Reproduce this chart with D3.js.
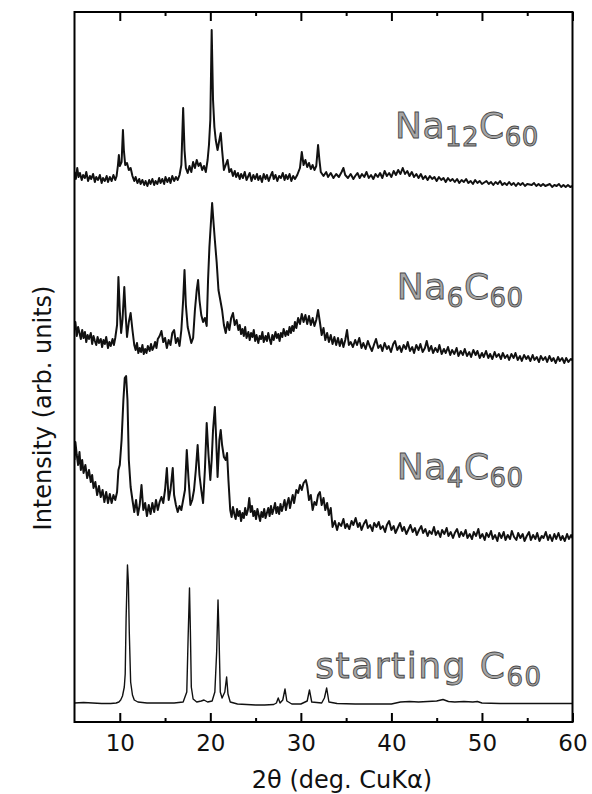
<!DOCTYPE html>
<html>
<head>
<meta charset="utf-8">
<script src="https://cdn.jsdelivr.net/npm/d3@7"></script>
<style>
  body { margin: 0; background: #fff; }
  #chart { width: 592px; height: 794px; }
  .tick text { font-family: "DejaVu Sans", sans-serif; }
</style>
</head>
<body>
<div id="chart"></div>
<script>
// 2θ (deg) and intensity (arb. units, traces already stacked)
const na12C60 = [
  [5.0,550],[5.15,543],[5.3,554],[5.45,545],[5.6,549],[5.8,542],[5.95,547],[6.15,544],[6.3,550],[6.5,541],
  [6.7,546],[6.85,543],[7.05,548],[7.25,540],[7.4,545],[7.6,542],[7.8,547],[8.0,539],[8.15,544],[8.35,541],
  [8.55,546],[8.7,540],[8.9,545],[9.1,541],[9.3,547],[9.5,542],[9.65,546],
  [9.8,557],[9.9,567],[10.0,556],[10.2,560],[10.35,592],[10.45,572],[10.6,557],[10.8,559],[11.0,552],[11.2,554],
  [11.4,546],[11.6,541],[11.75,545],[11.95,539],[12.15,543],[12.3,538],[12.5,542],[12.7,537],[12.85,541],[13.05,536],
  [13.25,542],[13.4,538],[13.6,543],[13.8,537],[13.95,541],[14.15,538],[14.35,544],[14.5,539],[14.7,543],[14.9,538],
  [15.05,545],[15.25,540],[15.45,544],[15.6,539],[15.8,546],[16.0,541],[16.2,545],[16.4,542],[16.6,547],
  [16.8,557],[17.0,614],[17.15,572],[17.3,554],[17.5,549],[17.7,556],[17.9,550],[18.1,560],
  [18.3,554],[18.5,562],[18.7,556],[18.9,559],[19.1,552],[19.3,556],[19.5,550],[19.7,562],[19.85,577],[20.0,602],
  [20.15,692],[20.3,622],[20.45,595],[20.6,582],[20.8,572],[21.0,582],[21.15,589],[21.3,572],[21.5,552],[21.7,557],
  [21.9,562],[22.1,550],[22.3,553],[22.5,546],[22.7,551],[22.85,545],[23.05,549],[23.25,543],[23.4,548],[23.6,544],
  [23.8,550],[24.0,542],[24.2,546],[24.35,549],[24.55,541],[24.75,547],[24.95,543],[25.15,548],[25.3,542],[25.5,546],
  [25.7,540],[25.9,548],[26.1,543],[26.25,547],[26.45,541],[26.65,546],[26.85,550],[27.0,543],[27.2,547],[27.4,541],
  [27.6,546],[27.8,544],[28.0,549],[28.2,542],[28.35,547],[28.55,543],[28.75,548],[28.95,541],[29.15,546],[29.35,543],
  [29.6,547],[29.9,554],[30.1,570],[30.3,557],[30.5,562],[30.7,555],[30.9,559],[31.1,553],[31.3,557],
  [31.5,552],[31.7,556],[31.9,577],[32.05,562],[32.2,550],[32.5,546],[32.8,550],[33.0,545],[33.3,549],[33.6,544],
  [33.9,548],[34.2,545],[34.5,550],[34.7,554],[34.9,547],[35.2,544],[35.5,548],[35.8,543],
  [36.0,546],[36.25,549],[36.5,544],[36.75,548],[37.0,545],[37.25,550],[37.5,544],[37.75,547],[38.0,543],[38.25,548],
  [38.5,545],[38.75,549],[39.0,544],[39.25,551],[39.5,546],[39.75,549],[40.0,545],[40.25,551],[40.5,547],[40.75,552],
  [41.0,548],[41.25,554],[41.5,548],[41.75,551],[42.0,546],[42.25,550],[42.5,545],[42.75,548],[43.0,544],[43.25,548],
  [43.5,543],[43.75,546],[44.0,542],[44.25,546],[44.5,543],[44.75,545],[45.0,541],[45.25,545],[45.5,542],[45.75,544],
  [46.0,540],[46.25,544],[46.5,541],[46.75,543],[47.0,540],[47.25,543],[47.5,539],[47.75,542],[48.0,540],[48.25,543],
  [48.5,539],[48.75,541],[49.0,538],[49.25,542],[49.5,539],[49.75,541],[50.0,538],[50.5,541],[50.75,538],[51.0,540],
  [51.25,537],[51.5,540],[51.75,538],[52.0,541],[52.25,537],[52.5,539],[52.75,537],[53.0,540],[53.25,537],[53.5,539],
  [53.75,536],[54.0,539],[54.25,537],[54.5,539],[54.75,536],[55.0,538],[55.5,537],[55.75,539],[56.0,536],[56.25,538],
  [56.5,536],[56.75,538],[57.0,536],[57.5,538],[57.75,535],[58.0,537],[58.25,536],[58.5,538],[58.75,535],[59.0,537],
  [59.25,535],[59.5,537],[59.75,535],[60.0,536]
];

const na6C60 = [
  [5.0,392],[5.1,400],[5.25,386],[5.4,395],[5.55,389],[5.7,383],[5.85,392],[6.0,384],[6.15,390],[6.3,380],
  [6.45,387],[6.6,383],[6.8,389],[6.95,378],[7.1,386],[7.25,381],[7.4,377],[7.55,385],[7.7,379],[7.9,383],
  [8.05,375],[8.2,382],[8.35,378],[8.5,385],[8.7,374],[8.85,380],[9.0,376],[9.2,383],[9.35,377],[9.5,384],
  [9.7,397],[9.85,445],[10.0,412],[10.15,389],[10.3,402],[10.5,435],
  [10.65,407],[10.8,385],[11.0,400],[11.2,409],[11.4,392],[11.6,377],[11.75,372],[11.9,379],[12.05,369],[12.2,374],
  [12.35,370],[12.5,377],[12.65,368],[12.8,373],[12.95,369],[13.1,376],[13.3,371],[13.45,378],[13.6,372],[13.75,375],
  [13.9,380],[14.05,374],[14.2,383],[14.4,386],
  [14.6,391],[14.8,380],[15.0,384],[15.2,374],[15.4,382],[15.6,377],[15.8,389],[16.0,392],[16.2,379],[16.4,384],
  [16.6,376],[16.8,392],[17.0,422],[17.15,452],[17.3,417],[17.5,395],[17.7,387],[17.9,379],[18.1,384],[18.3,412],
  [18.5,432],[18.65,442],[18.8,422],[19.0,407],[19.2,400],[19.4,404],[19.6,396],[19.75,442],[19.9,475],[20.05,497],
  [20.2,519],[20.35,500],[20.5,482],[20.7,460],[20.9,432],[21.1,422],[21.3,412],[21.5,397],[21.7,389],[21.9,400],
  [22.1,392],[22.3,404],[22.5,409],[22.7,397],[22.9,402],
  [23.1,392],[23.25,397],[23.4,388],[23.55,393],[23.7,386],[23.85,395],[24.0,384],[24.2,390],[24.35,382],[24.5,389],
  [24.65,385],[24.8,392],[24.95,381],[25.1,387],[25.3,379],[25.45,386],[25.6,383],[25.75,390],[25.9,380],[26.1,386],
  [26.25,381],[26.4,389],[26.55,383],[26.7,378],[26.85,387],[27.0,382],[27.2,390],[27.35,384],[27.5,388],[27.65,381],
  [27.8,389],[27.95,385],[28.1,393],[28.3,386],[28.45,391],[28.6,387],[28.75,395],[28.9,389],[29.05,396],[29.2,391],
  [29.35,400],[29.5,394],[29.7,404],[29.9,398],
  [30.1,408],[30.3,400],[30.5,407],[30.7,398],[30.9,406],[31.1,397],[31.3,404],[31.5,396],[31.7,402],[31.9,412],
  [32.1,400],[32.3,387],[32.5,394],[32.7,382],[32.9,389],[33.1,380],[33.3,387],[33.5,378],[33.7,385],[33.9,377],
  [34.1,384],[34.3,376],[34.5,383],[34.7,375],[34.9,382],[35.1,392],[35.3,377],
  [35.5,380],[35.75,375],[36.0,382],[36.2,377],[36.45,384],[36.7,374],[36.9,379],[37.15,373],[37.4,381],[37.6,376],
  [37.85,371],[38.1,378],[38.3,383],[38.55,374],[38.8,377],[39.0,371],[39.25,379],[39.5,373],[39.7,376],[39.95,370],
  [40.2,378],[40.4,381],[40.65,372],[40.9,376],[41.1,370],[41.35,377],[41.6,373],[41.8,380],[42.05,371],[42.3,375],
  [42.5,369],[42.75,377],[43.0,372],[43.2,378],[43.45,370],[43.7,374],[43.9,381],[44.15,371],[44.4,376],[44.6,369],
  [44.85,374],[45.1,370],[45.3,377],[45.55,368],[45.8,373],[46.0,369],[46.25,375],[46.5,367],[46.7,372],[46.95,368],
  [47.2,374],[47.4,366],[47.65,371],[47.9,367],[48.1,373],[48.35,366],[48.6,370],[48.8,365],[49.05,372],[49.3,367],
  [49.5,371],[49.75,364],[50.0,369],[50.2,365],[50.45,371],[50.7,364],[50.9,368],[51.15,363],[51.4,370],[51.6,365],
  [51.85,368],[52.1,363],[52.3,369],[52.55,364],[52.8,367],[53.0,362],[53.25,368],[53.5,364],[53.7,369],[53.95,362],
  [54.2,366],[54.4,361],[54.65,367],[54.9,363],[55.1,366],[55.35,361],[55.6,367],[55.8,362],[56.05,365],[56.3,360],
  [56.5,366],[56.75,362],[57.0,365],[57.2,360],[57.45,366],[57.7,361],[57.9,364],[58.15,359],[58.4,365],[58.6,361],
  [58.85,364],[59.1,359],[59.3,364],[59.55,360],[59.8,363],[60.0,362]
];

const na4C60 = [
  [5.0,262],[5.1,280],[5.25,267],[5.4,257],[5.55,270],[5.7,252],[5.85,262],[6.0,249],[6.2,257],[6.4,244],
  [6.6,252],[6.8,240],[6.95,247],[7.1,234],[7.3,240],[7.5,227],[7.7,236],[7.9,225],[8.1,232],[8.3,220],
  [8.5,230],[8.7,219],[8.9,228],[9.1,219],[9.3,227],[9.5,222],[9.7,230],[9.85,252],[10.0,257],[10.2,282],
  [10.4,322],[10.55,344],[10.7,346],[10.85,322],[11.0,262],[11.2,235],[11.4,222],[11.6,210],[11.8,222],[12.0,207],
  [12.2,217],[12.4,237],[12.6,212],[12.8,219],[13.0,206],[13.2,217],[13.4,208],[13.6,219],[13.8,210],[14.0,222],
  [14.2,212],[14.4,220],[14.6,225],[14.8,219],[15.0,232],[15.2,254],[15.4,222],[15.6,232],[15.85,254],[16.0,227],
  [16.2,217],[16.4,210],[16.6,216],[16.8,212],[17.0,222],[17.2,232],[17.4,272],[17.6,242],[17.8,217],[18.0,222],
  [18.2,232],[18.4,252],[18.6,277],[18.8,247],[19.0,232],[19.2,219],[19.4,252],[19.6,299],[19.8,267],[20.0,242],
  [20.15,262],[20.3,292],[20.5,315],[20.65,282],[20.8,245],[21.0,282],[21.15,292],[21.3,277],[21.5,265],[21.7,262],
  [21.85,269],[22.0,242],[22.2,212],[22.35,205],[22.5,215],[22.65,208],[22.8,203],[22.95,213],[23.1,206],[23.25,211],
  [23.4,201],[23.55,209],[23.7,204],[23.85,214],[24.0,207],[24.15,212],[24.3,224],[24.45,210],[24.6,216],[24.75,206],
  [24.9,211],[25.05,203],[25.2,213],[25.35,207],[25.5,201],[25.65,210],[25.8,205],[25.95,213],[26.1,204],[26.25,209],
  [26.4,214],[26.55,206],[26.7,216],[26.85,208],[27.0,213],[27.15,219],[27.3,209],[27.45,215],[27.6,208],[27.75,218],
  [27.9,211],[28.05,216],[28.2,222],[28.35,212],[28.5,219],[28.65,224],[28.8,214],[28.95,221],[29.1,227],[29.25,219],
  [29.5,232],[29.7,229],
  [29.9,237],[30.1,232],[30.3,239],[30.55,242],[30.7,236],[30.9,222],[31.1,227],[31.3,212],[31.5,220],[31.7,217],
  [31.9,227],[32.1,230],[32.3,217],[32.5,224],[32.7,212],[32.9,219],[33.1,207],[33.3,214],
  [33.5,195],[33.75,201],[34.0,192],[34.2,199],[34.45,196],[34.7,203],[34.9,194],[35.1,198],[35.35,193],[35.6,201],
  [35.8,197],[36.05,204],[36.3,195],[36.5,199],[36.7,192],[36.95,198],[37.2,202],[37.4,194],[37.65,197],[37.9,191],
  [38.1,199],[38.35,195],[38.6,200],[38.8,193],[39.05,196],[39.3,190],[39.5,197],[39.75,201],[40.0,192],[40.25,196],
  [40.45,189],[40.7,194],[40.95,199],[41.2,191],[41.4,195],[41.65,188],[41.9,193],[42.1,197],[42.35,190],[42.6,194],
  [42.8,187],[43.05,192],[43.3,196],[43.5,189],[43.75,193],[44.0,186],[44.2,191],[44.45,188],[44.7,195],[44.9,187],
  [45.15,191],[45.4,185],[45.6,192],[45.85,188],[46.1,194],[46.3,186],[46.55,190],[46.8,184],[47.0,189],[47.25,193],
  [47.5,185],[47.7,190],[47.95,186],[48.2,192],[48.4,184],[48.65,188],[48.9,183],[49.1,190],[49.35,186],[49.6,193],
  [49.8,184],[50.05,188],[50.3,182],[50.5,189],[50.75,185],[51.0,191],[51.2,183],[51.45,187],[51.7,181],[51.9,189],
  [52.15,184],[52.4,190],[52.6,182],[52.85,187],[53.1,183],[53.3,191],[53.55,185],[53.8,182],[54.0,189],[54.25,184],
  [54.5,188],[54.7,181],[54.95,186],[55.2,190],[55.4,182],[55.65,187],[55.9,183],[56.1,189],[56.35,181],[56.6,186],
  [56.8,184],[57.05,190],[57.3,182],[57.5,187],[57.75,181],[58.0,188],[58.2,183],[58.45,189],[58.7,182],[58.9,186],
  [59.15,181],[59.4,188],[59.6,183],[59.85,187],[60.0,184]
];

const startingC60 = [
  [5.0,19],[6.0,19.5],[7.0,19],[8.0,18.5],[9.0,18.5],[9.6,19],[9.9,20],[10.1,22],[10.3,26],[10.5,35],
  [10.6,48],[10.7,104],[10.85,157],[10.95,140],[11.05,90],[11.2,40],[11.4,27],[11.6,22],[12.0,20],[13.0,19],
  [14.0,19],[15.0,19],[16.0,19],[17.0,20],[17.4,30],[17.55,85],[17.7,134],[17.8,90],[17.9,35],[18.1,23],
  [18.5,20],[19.0,21],[19.3,22],[19.7,20],[20.2,21],[20.5,30],[20.7,70],[20.85,122],[20.95,90],[21.1,30],
  [21.3,24],[21.6,30],[21.8,45],[21.95,28],[22.2,20],[23.0,18],[24.0,17.5],[25.0,17],[26.0,17],[27.0,17.5],
  [27.3,19],[27.5,24],[27.7,19],[28.0,22],[28.25,33],[28.45,21],[29.0,18],[30.0,18],[30.7,21],[30.95,32],
  [31.2,20],[32.3,19],[32.6,24],[32.85,34],[33.1,20],[34.0,18.5],[36.0,18],[40.0,18],[41.0,20],[42.0,20.5],
  [43.0,20],[44.0,20.5],[45.0,21],[45.7,22.5],[46.3,20.5],[47.0,20],[48.0,20.5],[49.0,20],[49.5,20.5],[50.0,19],
  [52.0,18.5],[55.0,18.5],[60.0,18.5]
];

const seriesData = [na12C60, na6C60, na4C60, startingC60];
const seriesNames = ["Na12C60", "Na6C60", "Na4C60", "starting C60"];

// label pieces: [text, isSubscript]
const labelParts = [
  [["Na", false], ["12", true], ["C", false], ["60", true]],
  [["Na", false], ["6", true], ["C", false], ["60", true]],
  [["Na", false], ["4", true], ["C", false], ["60", true]],
  [["starting C", false], ["60", true]]
];
// label anchor (2θ, intensity)
const labelPos = [[40.4, 584], [40.6, 423], [40.6, 243], [31.6, 44]];

const majorTicks = [10, 20, 30, 40, 50, 60];
const minorTicks = [15, 25, 35, 45, 55];

const margin = {top: 12, right: 19.5, bottom: 72, left: 74.5};
const width = 592 - margin.left - margin.right;
const height = 794 - margin.top - margin.bottom;

const svg = d3.select("#chart").append("svg")
    .attr("width", 592)
    .attr("height", 794)
    .append("g")
    .attr("transform", "translate(" + margin.left + "," + margin.top + ")");

const x = d3.scaleLinear().domain([5, 60]).range([0, width]);
const y = d3.scaleLinear().domain([0, 710]).range([height, 0]);

svg.append("clipPath").attr("id", "clip")
    .append("rect").attr("width", width).attr("height", height);

const line = d3.line()
    .x(d => x(d[0]))
    .y(d => y(d[1]));

svg.append("g").attr("clip-path", "url(#clip)")
    .selectAll("path")
    .data(seriesData)
    .enter().append("path")
    .attr("d", line)
    .attr("fill", "none")
    .attr("stroke", "#111")
    .attr("stroke-width", (d, i) => i === 3 ? 1.4 : 2)
    .attr("stroke-linejoin", "round");

// axes, ticks pointing inward
const xAxis = d3.axisBottom(x).tickValues(majorTicks).tickSizeInner(-9).tickSizeOuter(0).tickPadding(13);
const xAxisMinor = d3.axisBottom(x).tickValues(minorTicks).tickSizeInner(-4).tickSizeOuter(0).tickFormat("");
const xTop = d3.axisTop(x).tickValues(majorTicks).tickSizeInner(-9).tickSizeOuter(0).tickFormat("");
const xTopMinor = d3.axisTop(x).tickValues(minorTicks).tickSizeInner(-4).tickSizeOuter(0).tickFormat("");

const gx = svg.append("g").attr("transform", "translate(0," + height + ")").call(xAxis);
svg.append("g").attr("transform", "translate(0," + height + ")").call(xAxisMinor);
svg.append("g").call(xTop);
svg.append("g").call(xTopMinor);

svg.selectAll(".domain").remove();
svg.selectAll(".tick line").attr("stroke", "#000").attr("stroke-width", 2);
gx.selectAll(".tick text")
    .attr("font-size", 23)
    .attr("fill", "#111");

// frame
svg.append("rect")
    .attr("width", width)
    .attr("height", height)
    .attr("fill", "none")
    .attr("stroke", "#000")
    .attr("stroke-width", 2);

// axis labels
svg.append("text")
    .attr("x", 342 - margin.left)
    .attr("y", height + 66)
    .attr("text-anchor", "middle")
    .attr("font-family", "DejaVu Sans, sans-serif")
    .attr("font-size", 24)
    .attr("fill", "#111")
    .text("2θ (deg. CuKα)");

svg.append("text")
    .attr("transform", "rotate(-90)")
    .attr("x", -(408 - margin.top))
    .attr("y", -24)
    .attr("text-anchor", "middle")
    .attr("font-family", "DejaVu Sans, sans-serif")
    .attr("font-size", 24)
    .attr("fill", "#111")
    .text("Intensity (arb. units)");

// series labels
labelParts.forEach((parts, i) => {
    const t = svg.append("text")
        .attr("x", x(labelPos[i][0]))
        .attr("y", y(labelPos[i][1]))
        .attr("font-family", "DejaVu Sans, sans-serif")
        .attr("font-size", 36)
        .attr("letter-spacing", i === 3 ? 1.5 : 0.5)
        .attr("fill", "#a6a6a6")
        .attr("stroke", "#4a4a4a")
        .attr("stroke-width", 0.9);
    parts.forEach((p, j) => {
        const s = t.append("tspan").text(p[0]);
        if (p[1]) {
            s.attr("font-size", 26).attr("dy", 8);
        } else if (j > 0 && parts[j - 1][1]) {
            s.attr("dy", -8);
        }
    });
});
</script>
</body>
</html>
